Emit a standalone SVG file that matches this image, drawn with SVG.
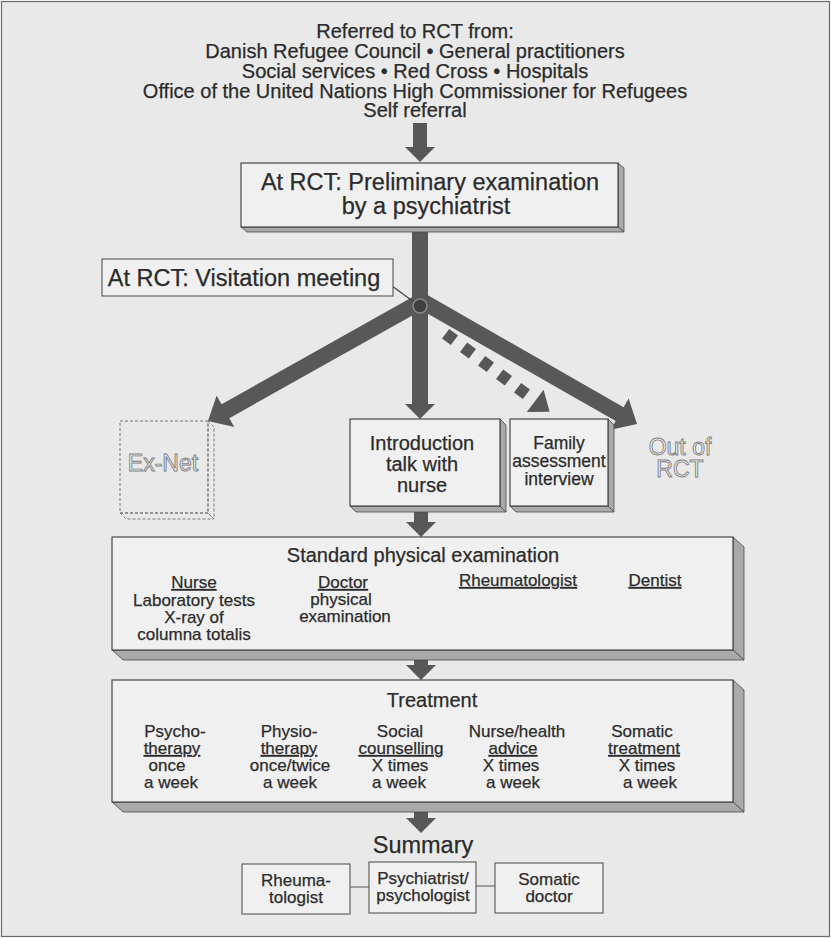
<svg xmlns="http://www.w3.org/2000/svg" width="831" height="938" viewBox="0 0 831 938">
<defs>
<style>
text{font-family:"Liberation Sans",Arial,Helvetica,sans-serif;fill:#2b2b2b;stroke:#2b2b2b;stroke-width:0.25;text-anchor:middle}
.h{font-size:20px}
.b{font-size:23.5px}
.m{font-size:20px}
.s{font-size:17px}
.u{text-decoration:underline}
.face{fill:#f0f0f0;stroke:#3a3a3a;stroke-width:1.1}
.shade{fill:#a9a9a9;stroke:#4a4a4a;stroke-width:0.8}
.flat{fill:#f0f0f0;stroke:#555;stroke-width:1.1}
.dash{fill:none;stroke:#777;stroke-width:1;stroke-dasharray:3 2}
text.hollow{fill:#f3f3f3;stroke:#808080;stroke-width:0.9;font-size:23px}
.shaft{stroke:#585858;fill:none}
</style>
<marker id="ah" markerUnits="userSpaceOnUse" markerWidth="16" markerHeight="30" viewBox="0 0 15 30" refX="2" refY="15" orient="auto"><path d="M0,0 L15,15 L0,30 Z" fill="#585858"/></marker>
<marker id="ahl" markerUnits="userSpaceOnUse" markerWidth="21" markerHeight="36" viewBox="0 0 20 36" refX="2" refY="18" orient="auto"><path d="M0,0 L20,18 L0,36 Z" fill="#585858"/></marker>
<marker id="ahs" markerUnits="userSpaceOnUse" markerWidth="29" markerHeight="28" viewBox="0 0 29 28" refX="0" refY="14" orient="auto"><path d="M11,0 L29,14 L11,28 Z" fill="#585858"/></marker>
</defs>
<rect x="1.5" y="1.5" width="828" height="935" fill="#e9e9e9" stroke="#6a6a6a" stroke-width="1.2"/>

<g id="referrals">
<text class="h"><tspan x="415" y="38">Referred to RCT from:</tspan><tspan x="415" y="58">Danish Refugee Council • General practitioners</tspan><tspan x="415" y="78">Social services • Red Cross • Hospitals</tspan><tspan x="415" y="98">Office of the United Nations High Commissioner for Refugees</tspan><tspan x="415" y="117">Self referral</tspan></text>
</g>

<g id="connectors">
<line class="shaft" x1="420" y1="123" x2="420" y2="149" stroke-width="14" marker-end="url(#ah)"/>
<line class="shaft" x1="420" y1="228" x2="420" y2="406" stroke-width="16" marker-end="url(#ah)"/>
<line class="shaft" x1="420" y1="302" x2="223.7" y2="412.2" stroke-width="16" marker-end="url(#ahl)"/>
<line class="shaft" x1="420" y1="300" x2="621.4" y2="415.1" stroke-width="16" marker-end="url(#ahl)"/>
<line class="shaft" x1="445.6" y1="333.7" x2="526.4" y2="394.3" stroke-width="12" stroke-dasharray="11 11.5" marker-end="url(#ahs)"/>
<line x1="392" y1="286" x2="414" y2="302" stroke="#444" stroke-width="1.2"/>
<circle cx="420" cy="306" r="7" fill="#404040" stroke="#8a8a8a" stroke-width="1.5"/>
<line class="shaft" x1="421" y1="511" x2="421" y2="524" stroke-width="14" marker-end="url(#ah)"/>
<line class="shaft" x1="421" y1="650" x2="421" y2="667" stroke-width="14" marker-end="url(#ah)"/>
<line class="shaft" x1="421" y1="802" x2="421" y2="820" stroke-width="14" marker-end="url(#ah)"/>
<line x1="350" y1="887" x2="369" y2="887" stroke="#555" stroke-width="1"/>
<line x1="476" y1="886" x2="495" y2="886" stroke="#555" stroke-width="1"/>
</g>

<g id="preliminary">
<polygon class="shade" points="618,163 624,168 624,232 618,227"/>
<polygon class="shade" points="241,227 618,227 624,232 247,232"/>
<rect class="face" x="241" y="163" width="377" height="64"/>
<text class="b"><tspan x="430" y="190">At RCT: Preliminary examination</tspan><tspan x="426" y="214">by a psychiatrist</tspan></text>
</g>

<g id="visitation">
<rect class="flat" x="102" y="259" width="291" height="37"/>
<text class="b" x="244" y="286">At RCT: Visitation meeting</text>
</g>

<g id="exnet">
<polygon class="dash" points="208,421 214,427 214,519 208,513"/>
<polygon class="dash" points="120,513 208,513 214,519 126,519"/>
<rect class="dash" x="120" y="421" width="88" height="92"/>
<text class="hollow" x="163" y="471">Ex-Net</text>
</g>

<g id="introduction">
<polygon class="shade" points="500,419 506,425 506,512 500,506"/>
<polygon class="shade" points="350,506 500,506 506,512 356,512"/>
<rect class="face" x="350" y="419" width="150" height="87"/>
<text class="m"><tspan x="422" y="450">Introduction</tspan><tspan x="422" y="471">talk with</tspan><tspan x="422" y="492">nurse</tspan></text>
</g>

<g id="family">
<polygon class="shade" points="608,419 614,425 614,512 608,506"/>
<polygon class="shade" points="510,506 608,506 614,512 516,512"/>
<rect class="face" x="510" y="419" width="98" height="87"/>
<text class="s" style="font-size:17.5px"><tspan x="559" y="449">Family</tspan><tspan x="559" y="467">assessment</tspan><tspan x="559" y="485">interview</tspan></text>
</g>

<g id="out">
<text class="hollow"><tspan x="680" y="455">Out of</tspan><tspan x="680" y="477">RCT</tspan></text>
</g>

<g id="standard">
<polygon class="shade" points="733,537 744,547 744,660 733,650"/>
<polygon class="shade" points="112,650 733,650 744,660 123,660"/>
<rect class="face" x="112" y="537" width="621" height="113"/>
<text class="m" x="423" y="562">Standard physical examination</text>
<text class="s"><tspan x="194" y="588" class="u">Nurse</tspan><tspan x="194" y="606">Laboratory tests</tspan><tspan x="194" y="623">X-ray of</tspan><tspan x="194" y="640">columna totalis</tspan></text>
<text class="s"><tspan x="343" y="588" class="u">Doctor</tspan><tspan x="341" y="605">physical</tspan><tspan x="345" y="622">examination</tspan></text>
<text class="s u" x="518" y="586">Rheumatologist</text>
<text class="s u" x="655" y="586">Dentist</text>
</g>

<g id="treatment">
<polygon class="shade" points="733,680 744,690 744,812 733,802"/>
<polygon class="shade" points="112,802 733,802 744,812 123,812"/>
<rect class="face" x="112" y="680" width="621" height="122"/>
<text class="m" x="432" y="707">Treatment</text>
<text class="s"><tspan x="175" y="737">Psycho-</tspan><tspan x="172" y="754" class="u">therapy</tspan><tspan x="167" y="771">once</tspan><tspan x="171" y="788">a week</tspan></text>
<text class="s"><tspan x="289" y="737">Physio-</tspan><tspan x="289" y="754" class="u">therapy</tspan><tspan x="290" y="771">once/twice</tspan><tspan x="290" y="788">a week</tspan></text>
<text class="s"><tspan x="400" y="737">Social</tspan><tspan x="401" y="754" class="u">counselling</tspan><tspan x="400" y="771">X times</tspan><tspan x="399" y="788">a week</tspan></text>
<text class="s"><tspan x="517" y="737">Nurse/health</tspan><tspan x="513" y="754" class="u">advice</tspan><tspan x="511" y="771">X times</tspan><tspan x="513" y="788">a week</tspan></text>
<text class="s"><tspan x="642" y="737">Somatic</tspan><tspan x="644" y="754" class="u">treatment</tspan><tspan x="647" y="771">X times</tspan><tspan x="650" y="788">a week</tspan></text>
</g>

<g id="summary">
<text class="b" x="423" y="853">Summary</text>
</g>
<g id="rheumatologist">
<rect class="flat" x="242" y="864" width="108" height="50"/>
<text class="s"><tspan x="296" y="886">Rheuma-</tspan><tspan x="296" y="903">tologist</tspan></text>
</g>
<g id="psychiatrist">
<rect class="flat" x="369" y="862" width="107" height="51"/>
<text class="s"><tspan x="423" y="884">Psychiatrist/</tspan><tspan x="423" y="901">psychologist</tspan></text>
</g>
<g id="somatic">
<rect class="flat" x="495" y="863" width="108" height="50"/>
<text class="s"><tspan x="549" y="885">Somatic</tspan><tspan x="549" y="902">doctor</tspan></text>
</g>
</svg>
